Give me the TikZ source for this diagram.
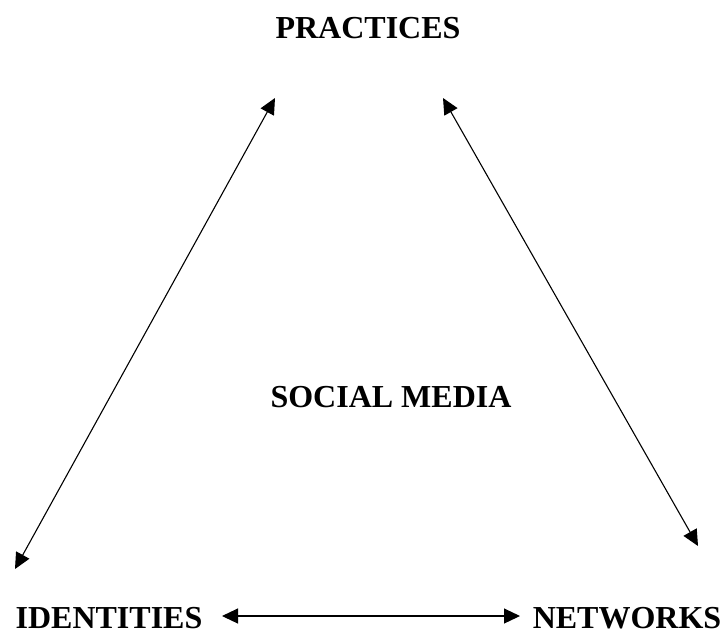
\documentclass[tikz,border=0pt]{standalone}
\usepackage{fontspec}
\setmainfont{Liberation Serif}
\usepackage{tikz}
\usetikzlibrary{arrows.meta}

\begin{document}
\begin{tikzpicture}[x=0.5pt,y=-0.5pt,<->,>={Triangle[length=8pt,width=7.5pt]},
										line width=0.55pt]
	\tikzstyle{every node}=[font=\bfseries\fontsize{16}{19}\selectfont,inner sep=0pt,anchor=base]
	\useasboundingbox (0,0) rectangle (726,632);

	\node (P) at (368,38)  {PRACTICES};
	\node (S) at (391,407) {SOCIAL MEDIA};
	\node (I) at (109,628) {IDENTITIES};
	\node (N) at (627,628) {NETWORKS};

	% arrow ends
	\coordinate (P1) at (275,98);
	\coordinate (P2) at (443,98);
	\coordinate (I1) at (15,569);
	\coordinate (I2) at (222,616);
	\coordinate (N1) at (698,546);
	\coordinate (N2) at (520,616);

	\path (P1) edge (I1)
				(P2) edge (N1)
				(I2) edge (N2);
\end{tikzpicture}
\end{document}
